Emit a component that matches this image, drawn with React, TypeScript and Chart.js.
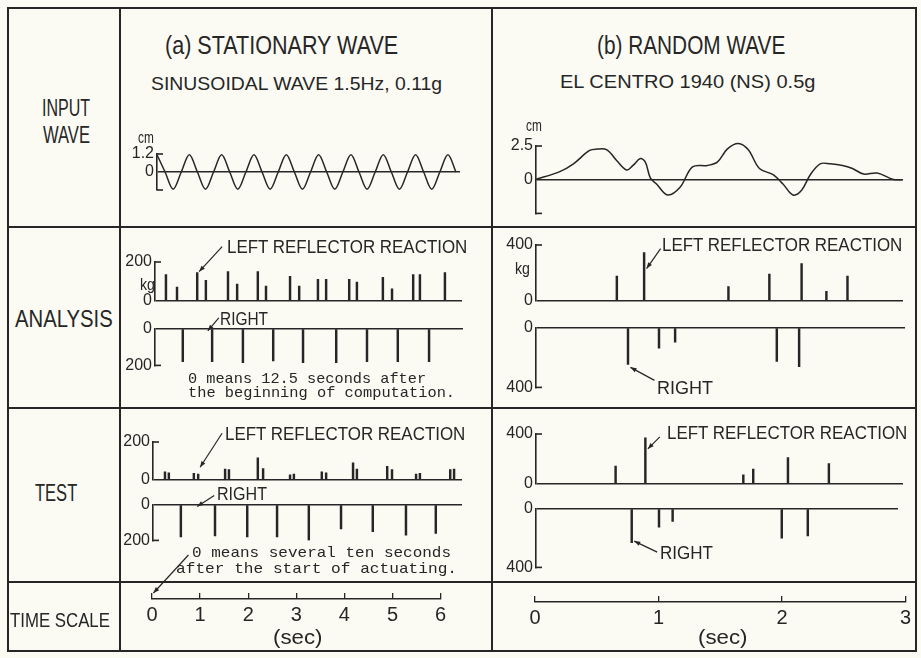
import React, { useEffect, useLayoutEffect, useRef } from 'react';
import { Chart, registerables } from 'chart.js';

Chart.register(...registerables);

// ---------------- data ----------------
// (a) input: sinusoidal wave, sampled at quarter periods (cm)
const SINE_STEP_SEC = 0.168;
const SINE_CM = [
  1.15, 0, -1.15, 0, 1.15, 0, -1.15, 0, 1.15, 0, -1.15, 0, 1.15, 0, -1.15, 0,
  1.15, 0, -1.15, 0, 1.15, 0, -1.15, 0, 1.15, 0, -1.15, 0, 1.15, 0, -1.15, 0,
  1.15, 0, -1.15, 0, 1.15, 0,
];
const SINE_Y_TICKS = [-1.2, 0, 1.2];

// (b) input: El Centro 1940 NS displacement (cm)
const ELC_T = [0, 0.2, 0.31, 0.44, 0.5, 0.58, 0.66, 0.74, 0.79, 0.85, 0.89, 0.93, 0.98, 1.07, 1.17, 1.27, 1.39, 1.47, 1.55, 1.64, 1.72, 1.81, 1.92, 2.0, 2.08, 2.15, 2.22, 2.3, 2.38, 2.48, 2.56, 2.65, 2.76, 2.89, 2.96];
const ELC_CM = [0, 0.6, 1.18, 2.17, 2.27, 2.22, 1.41, 0.72, 1.06, 1.57, 1.3, 0.14, -0.32, -1.13, -0.56, 0.95, 1.06, 1.3, 2.27, 2.69, 2.22, 0.83, 0.37, -0.32, -1.13, -0.78, 0.37, 1.18, 1.18, 1.06, 0.83, 0.42, 0.49, 0.02, 0];
const ELC_Y_TICKS = [-2.5, 0, 2.5];

// (a) analysis reactions (sec, kg)
const ANA_A_LEFT_T = [0.29, 0.52, 0.94, 1.12, 1.58, 1.77, 2.2, 2.37, 2.87, 3.06, 3.45, 3.62, 4.1, 4.26, 4.8, 4.99, 5.43, 5.57, 6.09];
const ANA_A_LEFT_KG = [135, 70, 145, 105, 150, 85, 150, 75, 125, 75, 110, 110, 110, 95, 120, 60, 135, 135, 145];
const ANA_A_RIGHT_T = [0.64, 1.25, 1.89, 2.52, 3.14, 3.83, 4.47, 5.11, 5.76];
const ANA_A_RIGHT_KG = [-180, -180, -185, -175, -185, -185, -180, -180, -180];

// (a) test reactions (sec, kg)
const TEST_A_LEFT_T = [0.27, 0.35, 0.87, 0.96, 1.52, 1.6, 2.2, 2.31, 2.87, 2.95, 3.53, 3.62, 4.18, 4.26, 4.89, 4.99, 5.49, 5.57, 6.2, 6.28];
const TEST_A_LEFT_KG = [40, 35, 32, 28, 55, 52, 115, 58, 25, 28, 40, 35, 88, 55, 70, 52, 28, 32, 52, 55];
const TEST_A_RIGHT_T = [0.6, 1.31, 1.98, 2.6, 3.26, 3.93, 4.59, 5.28, 5.9];
const TEST_A_RIGHT_KG = [-180, -175, -180, -180, -200, -135, -150, -170, -160];

// (b) analysis reactions (sec, kg)
const ANA_B_LEFT_T = [0.66, 0.88, 1.56, 1.89, 2.15, 2.35, 2.52];
const ANA_B_LEFT_KG = [175, 345, 100, 190, 265, 65, 175];
const ANA_B_RIGHT_T = [0.75, 1.0, 1.13, 1.95, 2.13];
const ANA_B_RIGHT_KG = [-245, -135, -95, -225, -260];

// (b) test reactions (sec, kg)
const TEST_B_LEFT_T = [0.65, 0.89, 1.68, 1.76, 2.04, 2.37];
const TEST_B_LEFT_KG = [140, 370, 70, 115, 210, 160];
const TEST_B_RIGHT_T = [0.78, 1.0, 1.11, 1.99, 2.2];
const TEST_B_RIGHT_KG = [-230, -125, -85, -200, -185];

const A_KG_UP_TICKS = [0, 200];
const A_KG_DN_TICKS = [-200, 0];
const B_KG_UP_TICKS = [0, 400];
const B_KG_DN_TICKS = [-400, 0];
const LEFT_TIME_TICKS = [0, 1, 2, 3, 4, 5, 6];
const RIGHT_TIME_TICKS = [0, 1, 2, 3];

// ---------------- styling / layout ----------------
const INK = '#262626';
const BG = '#fbfbf4';
const SANS = '"Liberation Sans", Arial, Helvetica, sans-serif';
const MONO = '"Liberation Mono", "DejaVu Sans Mono", monospace';

type Rect = { l: number; t: number; r: number; b: number };
type Arrow = { x: number; y: number; dx: number; dy: number };
type Spec = {
  box: Rect;
  area: Rect;
  x: [number, number];
  y: [number, number];
  yTicks?: number[];
  hiddenLabels?: number[];
  brackets?: number[];
  xTicks?: number[];
  kind: 'bar' | 'line';
  datasets: any[];
  arrows?: Arrow[];
};

const L_T0 = 152;
const L_PPS = 48.1;
const R_T0 = 535;
const R_PPS = 124;
const span = (a: Rect, t0: number, pps: number): [number, number] => [(a.l - t0) / pps, (a.r - t0) / pps];

const spikes = (T: number[], V: number[]) => ({
  data: T.map((t, i) => ({ x: t, y: V[i] })),
  backgroundColor: INK,
  borderWidth: 0,
  barThickness: 1.8,
  grouped: false,
});
const curve = (pts: { x: number; y: number }[], mode: 'monotone' | 'default', tension = 0) => ({
  data: pts,
  borderColor: INK,
  borderWidth: 1.5,
  pointRadius: 0,
  fill: false,
  cubicInterpolationMode: mode,
  tension,
  clip: false,
});

const A_IN: Rect = { l: 157, t: 154, r: 460, b: 190 };
const A_ANA_UP: Rect = { l: 155, t: 262, r: 462, b: 302 };
const A_ANA_DN: Rect = { l: 155, t: 329, r: 463, b: 366 };
const A_TEST_UP: Rect = { l: 153, t: 442, r: 462, b: 480 };
const A_TEST_DN: Rect = { l: 153, t: 505, r: 462, b: 541 };
const A_TIME: Rect = { l: 152, t: 593, r: 440.6, b: 599 };
const B_IN: Rect = { l: 536, t: 146, r: 903, b: 216 };
const B_ANA_UP: Rect = { l: 536, t: 245, r: 903, b: 302 };
const B_ANA_DN: Rect = { l: 536, t: 328, r: 905, b: 388 };
const B_TEST_UP: Rect = { l: 536, t: 434, r: 903, b: 485 };
const B_TEST_DN: Rect = { l: 536, t: 509, r: 898, b: 570 };
const B_TIME: Rect = { l: 535, t: 596, r: 907, b: 602 };

const SPECS: Spec[] = [
  {
    box: { l: 121, t: 140, r: 491, b: 206 }, area: A_IN, x: span(A_IN, A_IN.l, L_PPS), y: [-1.2, 1.2],
    yTicks: SINE_Y_TICKS, hiddenLabels: [-1.2], brackets: [-1.2, 1.2], kind: 'line',
    datasets: [curve(SINE_CM.map((v, i) => ({ x: i * SINE_STEP_SEC, y: v })), 'monotone')],
  },
  {
    box: { l: 121, t: 229, r: 491, b: 313 }, area: A_ANA_UP, x: span(A_ANA_UP, L_T0, L_PPS), y: [0, 200],
    yTicks: A_KG_UP_TICKS, brackets: [200], kind: 'bar', datasets: [spikes(ANA_A_LEFT_T, ANA_A_LEFT_KG)],
    arrows: [{ x: 0.98, y: 150, dx: 23, dy: -25 }],
  },
  {
    box: { l: 121, t: 313, r: 491, b: 378 }, area: A_ANA_DN, x: span(A_ANA_DN, L_T0, L_PPS), y: [-200, 0],
    yTicks: A_KG_DN_TICKS, brackets: [-200], kind: 'bar', datasets: [spikes(ANA_A_RIGHT_T, ANA_A_RIGHT_KG)],
    arrows: [{ x: 1.16, y: -10, dx: 11, dy: -13 }],
  },
  {
    box: { l: 121, t: 410, r: 491, b: 492 }, area: A_TEST_UP, x: span(A_TEST_UP, L_T0, L_PPS), y: [0, 200],
    yTicks: A_KG_UP_TICKS, brackets: [200], kind: 'bar', datasets: [spikes(TEST_A_LEFT_T, TEST_A_LEFT_KG)],
    arrows: [{ x: 1.0, y: 65, dx: 22, dy: -34 }],
  },
  {
    box: { l: 121, t: 492, r: 491, b: 553 }, area: A_TEST_DN, x: span(A_TEST_DN, L_T0, L_PPS), y: [-200, 0],
    yTicks: A_KG_DN_TICKS, brackets: [-200], kind: 'bar', datasets: [spikes(TEST_A_RIGHT_T, TEST_A_RIGHT_KG)],
    arrows: [{ x: 0.94, y: -8, dx: 17, dy: -11 }],
  },
  {
    box: { l: 121, t: 540, r: 491, b: 630 }, area: A_TIME, x: [0, 6], y: [0, 1],
    xTicks: LEFT_TIME_TICKS, kind: 'line', datasets: [],
    arrows: [{ x: 0.03, y: 1, dx: 35, dy: -38 }],
  },
  {
    box: { l: 493, t: 130, r: 915, b: 226 }, area: B_IN, x: span(B_IN, R_T0, R_PPS), y: [-2.5, 2.5],
    yTicks: ELC_Y_TICKS, hiddenLabels: [-2.5], brackets: [-2.5, 2.5], kind: 'line',
    datasets: [curve(ELC_T.map((t, i) => ({ x: t, y: ELC_CM[i] })), 'default', 0.35)],
  },
  {
    box: { l: 493, t: 229, r: 915, b: 313 }, area: B_ANA_UP, x: span(B_ANA_UP, R_T0, R_PPS), y: [0, 400],
    yTicks: B_KG_UP_TICKS, brackets: [400], kind: 'bar', datasets: [spikes(ANA_B_LEFT_T, ANA_B_LEFT_KG)],
    arrows: [{ x: 0.9, y: 230, dx: 14, dy: -20 }],
  },
  {
    box: { l: 493, t: 313, r: 915, b: 400 }, area: B_ANA_DN, x: span(B_ANA_DN, R_T0, R_PPS), y: [-400, 0],
    yTicks: B_KG_DN_TICKS, brackets: [-400], kind: 'bar', datasets: [spikes(ANA_B_RIGHT_T, ANA_B_RIGHT_KG)],
    arrows: [{ x: 0.77, y: -265, dx: 24, dy: 13 }],
  },
  {
    box: { l: 493, t: 410, r: 915, b: 496 }, area: B_TEST_UP, x: span(B_TEST_UP, R_T0, R_PPS), y: [0, 400],
    yTicks: B_KG_UP_TICKS, brackets: [400], kind: 'bar', datasets: [spikes(TEST_B_LEFT_T, TEST_B_LEFT_KG)],
    arrows: [{ x: 0.91, y: 280, dx: 12, dy: -12 }],
  },
  {
    box: { l: 493, t: 496, r: 915, b: 580 }, area: B_TEST_DN, x: span(B_TEST_DN, R_T0, R_PPS), y: [-400, 0],
    yTicks: B_KG_DN_TICKS, brackets: [-400], kind: 'bar', datasets: [spikes(TEST_B_RIGHT_T, TEST_B_RIGHT_KG)],
    arrows: [{ x: 0.8, y: -220, dx: 23, dy: 11 }],
  },
  {
    box: { l: 493, t: 584, r: 915, b: 632 }, area: B_TIME, x: [0, 3], y: [0, 1],
    xTicks: RIGHT_TIME_TICKS, kind: 'line', datasets: [],
  },
];

const TEXTS: { t: string; x: number; cy: number; w: number; s: number; mono?: boolean }[] = [
  { t: '(a) STATIONARY WAVE', x: 165, cy: 45, w: 233, s: 26 },
  { t: '(b) RANDOM WAVE', x: 597, cy: 45, w: 188, s: 26 },
  { t: 'SINUSOIDAL WAVE 1.5Hz, 0.11g', x: 151, cy: 84, w: 291, s: 18 },
  { t: 'EL CENTRO 1940 (NS) 0.5g', x: 560, cy: 82, w: 255, s: 18 },
  { t: 'INPUT', x: 42, cy: 108, w: 48, s: 24 },
  { t: 'WAVE', x: 43, cy: 135, w: 47, s: 24 },
  { t: 'cm', x: 138, cy: 137, w: 16, s: 17 },
  { t: 'cm', x: 526, cy: 125, w: 16, s: 17 },
  { t: 'ANALYSIS', x: 15, cy: 319, w: 98, s: 24 },
  { t: 'LEFT REFLECTOR REACTION', x: 227, cy: 247, w: 240, s: 18 },
  { t: 'kg', x: 140, cy: 284, w: 15, s: 17 },
  { t: 'RIGHT', x: 220, cy: 319, w: 48, s: 18 },
  { t: '0 means 12.5 seconds after', x: 188, cy: 379, w: 238, s: 15, mono: true },
  { t: 'the beginning of computation.', x: 188, cy: 393, w: 267, s: 15, mono: true },
  { t: 'LEFT REFLECTOR REACTION', x: 662, cy: 245, w: 240, s: 18 },
  { t: 'kg', x: 515, cy: 268, w: 15, s: 17 },
  { t: 'RIGHT', x: 657, cy: 388, w: 56, s: 18 },
  { t: 'TEST', x: 35, cy: 493, w: 42, s: 24 },
  { t: 'LEFT REFLECTOR REACTION', x: 225, cy: 434, w: 240, s: 18 },
  { t: 'RIGHT', x: 217, cy: 494, w: 50, s: 18 },
  { t: '0 means several ten seconds', x: 192, cy: 553, w: 259, s: 15, mono: true },
  { t: 'after the start of actuating.', x: 176, cy: 569, w: 281, s: 15, mono: true },
  { t: 'LEFT REFLECTOR REACTION', x: 667, cy: 433, w: 240, s: 18 },
  { t: 'RIGHT', x: 660, cy: 553, w: 53, s: 18 },
  { t: 'TIME SCALE', x: 10, cy: 620, w: 100, s: 20 },
  { t: '(sec)', x: 273, cy: 637, w: 49, s: 20 },
  { t: '(sec)', x: 698, cy: 637, w: 49, s: 20 },
];

// table frame lines
const V_LINES = [8, 120, 492, 916];
const H_LINES = [8, 227, 408, 582, 651];
const FRAME = { l: 8, t: 8, r: 916, b: 651 };

// ---------------- chart plumbing ----------------
const decorPlugin = {
  id: 'decor',
  afterDraw(chart: any, _a: any, opts: any) {
    const { ctx, chartArea: ca, scales } = chart;
    const xs = scales.x;
    const ys = scales.y;
    ctx.save();
    ctx.strokeStyle = INK;
    ctx.fillStyle = INK;
    ctx.lineWidth = 1.6;
    (opts.brackets || []).forEach((v: number) => {
      const y = ys.getPixelForValue(v);
      ctx.beginPath();
      ctx.moveTo(ca.left, y);
      ctx.lineTo(ca.left + 6, y);
      ctx.stroke();
    });
    (opts.arrows || []).forEach((a: Arrow) => {
      const hx = xs.getPixelForValue(a.x);
      const hy = ys.getPixelForValue(a.y);
      const tx = hx + a.dx;
      const ty = hy + a.dy;
      ctx.lineWidth = 1.2;
      ctx.beginPath();
      ctx.moveTo(tx, ty);
      ctx.lineTo(hx, hy);
      ctx.stroke();
      const ang = Math.atan2(hy - ty, hx - tx);
      const L = 6;
      const W = 2.3;
      ctx.beginPath();
      ctx.moveTo(hx, hy);
      ctx.lineTo(hx - L * Math.cos(ang) + W * Math.sin(ang), hy - L * Math.sin(ang) - W * Math.cos(ang));
      ctx.lineTo(hx - L * Math.cos(ang) - W * Math.sin(ang), hy - L * Math.sin(ang) + W * Math.cos(ang));
      ctx.closePath();
      ctx.fill();
    });
    ctx.restore();
  },
};

function buildConfig(s: Spec): any {
  const YW = s.yTicks ? 30 : 0;
  const XH = s.xTicks ? s.box.b - s.area.b : 0;
  const y = s.yTicks
    ? {
        type: 'linear',
        position: 'left',
        min: s.y[0],
        max: s.y[1],
        afterFit: (sc: any) => {
          sc.width = YW;
        },
        afterBuildTicks: (sc: any) => {
          sc.ticks = s.yTicks!.map((v) => ({ value: v }));
        },
        ticks: {
          color: INK,
          font: { family: SANS, size: 16 },
          padding: 3,
          autoSkip: false,
          callback: (v: number) => (s.hiddenLabels && s.hiddenLabels.includes(v) ? '' : String(Math.abs(v))),
        },
        grid: {
          drawTicks: false,
          drawOnChartArea: true,
          lineWidth: 1.4,
          color: (c: any) => (c.tick && c.tick.value === 0 ? INK : 'rgba(0,0,0,0)'),
        },
        border: { display: true, color: INK, width: 1.6 },
      }
    : { type: 'linear', display: false, min: s.y[0], max: s.y[1] };
  const x = s.xTicks
    ? {
        type: 'linear',
        position: 'bottom',
        min: s.x[0],
        max: s.x[1],
        offset: false,
        afterFit: (sc: any) => {
          sc.height = XH;
        },
        afterBuildTicks: (sc: any) => {
          sc.ticks = s.xTicks!.map((v) => ({ value: v }));
        },
        ticks: { color: INK, font: { family: SANS, size: 20 }, padding: 4, maxRotation: 0, autoSkip: false },
        grid: { display: true, drawOnChartArea: true, drawTicks: false, color: INK, lineWidth: 1.3, offset: false },
        border: { display: true, color: INK, width: 1.6 },
      }
    : { type: 'linear', display: false, min: s.x[0], max: s.x[1], offset: false, grid: { offset: false } };
  return {
    type: s.kind,
    data: { datasets: s.datasets },
    options: {
      responsive: false,
      animation: false,
      devicePixelRatio: 1,
      events: [],
      layout: {
        padding: {
          left: s.area.l - s.box.l - YW,
          top: s.area.t - s.box.t,
          right: s.box.r - s.area.r,
          bottom: s.box.b - s.area.b - XH,
        },
      },
      scales: { x, y },
      plugins: {
        legend: { display: false },
        tooltip: { enabled: false },
        decor: { brackets: s.brackets || [], arrows: s.arrows || [] },
      },
    },
    plugins: [decorPlugin],
  };
}

function Plot({ spec }: { spec: Spec }) {
  const ref = useRef<HTMLCanvasElement>(null);
  useEffect(() => {
    const chart = new Chart(ref.current as HTMLCanvasElement, buildConfig(spec));
    return () => chart.destroy();
  }, [spec]);
  const w = spec.box.r - spec.box.l;
  const h = spec.box.b - spec.box.t;
  return (
    <canvas
      ref={ref}
      width={w}
      height={h}
      style={{ position: 'absolute', left: spec.box.l, top: spec.box.t, width: w, height: h }}
    />
  );
}

function Txt({ t, x, cy, w, s, mono }: { t: string; x: number; cy: number; w: number; s: number; mono?: boolean }) {
  const ref = useRef<HTMLDivElement>(null);
  useLayoutEffect(() => {
    const el = ref.current;
    if (!el) return;
    const nat = el.offsetWidth;
    const k = nat ? w / nat : 1;
    el.style.transform = `translateY(-50%) scaleX(${k})`;
  }, [t, w]);
  return (
    <div
      ref={ref}
      style={{
        position: 'absolute',
        left: x,
        top: cy,
        fontSize: s,
        fontFamily: mono ? MONO : SANS,
        whiteSpace: 'pre',
        lineHeight: 1,
        color: INK,
        transformOrigin: '0 50%',
        transform: 'translateY(-50%)',
      }}
    >
      {t}
    </div>
  );
}

export default function App() {
  return (
    <div style={{ position: 'fixed', left: 0, top: 0, width: 921, height: 658, background: BG, overflow: 'hidden' }}>
      {V_LINES.map((x, i) => (
        <div key={'v' + i} style={{ position: 'absolute', left: x - 1, top: FRAME.t - 1, width: 2, height: FRAME.b - FRAME.t + 2, background: INK }} />
      ))}
      {H_LINES.map((y, i) => (
        <div key={'h' + i} style={{ position: 'absolute', left: FRAME.l - 1, top: y - 1, width: FRAME.r - FRAME.l + 2, height: 2, background: INK }} />
      ))}
      {SPECS.map((s, i) => (
        <Plot key={'p' + i} spec={s} />
      ))}
      {TEXTS.map((tx, i) => (
        <Txt key={'t' + i} {...tx} />
      ))}
    </div>
  );
}
